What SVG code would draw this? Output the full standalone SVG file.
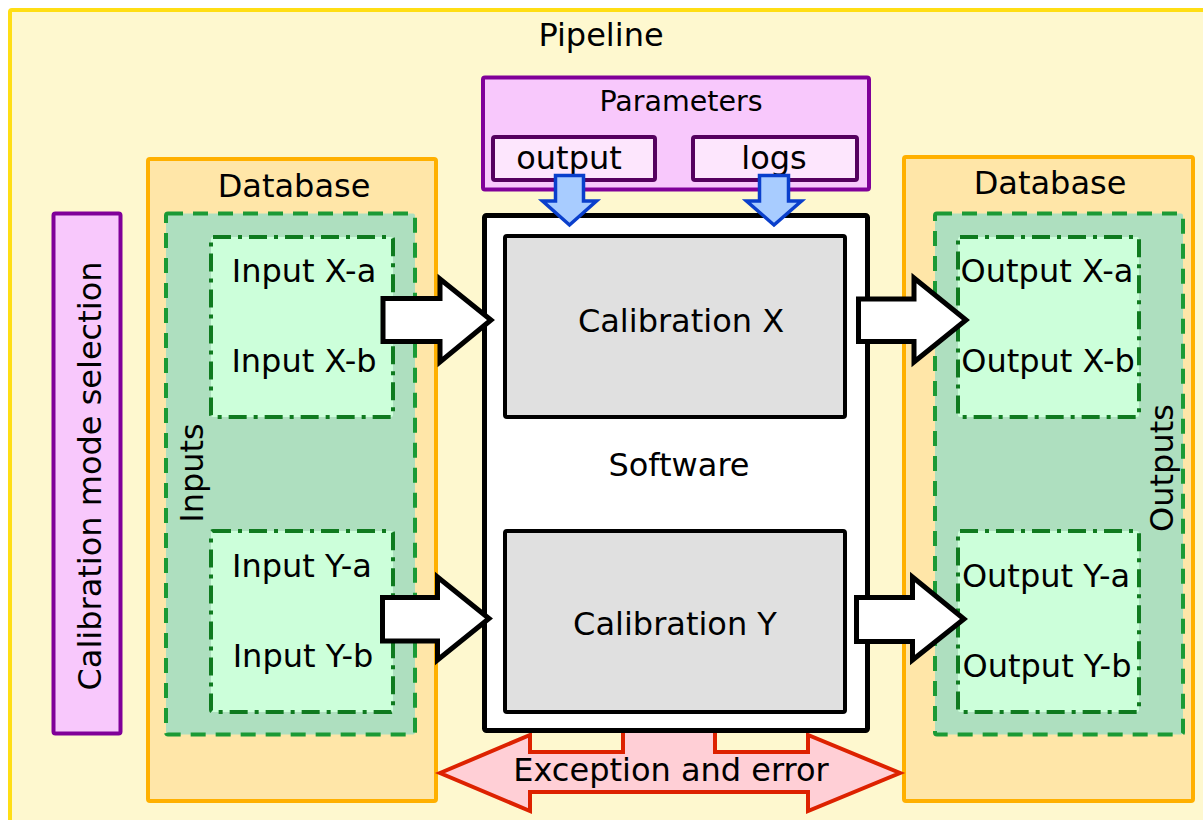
<svg xmlns="http://www.w3.org/2000/svg" width="1203" height="820" viewBox="0 0 1203 820">
<style>
text{font-family:"DejaVu Sans","Liberation Sans",sans-serif;font-size:32px;fill:#000;text-anchor:middle}
.pipe{fill:#fef8cf;stroke:#ffde14;stroke-width:4}
.db{fill:#ffe6a8;stroke:#ffb000;stroke-width:4}
.grp{fill:#aedfbf;stroke:#1b9a35;stroke-width:4;stroke-dasharray:15 10}
.inner{fill:#ccffda;stroke:#0f7a1f;stroke-width:4;stroke-dasharray:18 7 4 7}
.mode{fill:#f8c8fc;stroke:#800099;stroke-width:4}
.param{fill:#fde6fd;stroke:#55005f;stroke-width:4}
.soft{fill:#fff;stroke:#000;stroke-width:5}
.calib{fill:#e0e0e0;stroke:#000;stroke-width:4}
.big{fill:#fff;stroke:#000;stroke-width:5;stroke-linejoin:miter}
.blue{fill:#a8ccff;stroke:#0a3fcc;stroke-width:3.5}
.err{fill:#ffcfd6;stroke:#dd2200;stroke-width:4}
</style>
<g id="pipeline">
<rect class="pipe" x="10" y="10" width="1200" height="820" rx="2"/>
<text x="601" y="46">Pipeline</text>
</g>
<g id="mode-selection">
<rect class="mode" x="53.5" y="213.5" width="67" height="520" rx="2"/>
<text transform="translate(101,476) rotate(-90)">Calibration mode selection</text>
</g>
<g id="db-left">
<rect class="db" x="148" y="159" width="288" height="642" rx="2"/>
<text x="294" y="197">Database</text>
</g>
<g id="inputs">
<rect class="grp" x="166" y="213.5" width="249" height="521" rx="2"/>
<text transform="translate(203,473) rotate(-90)">Inputs</text>
</g>
<g id="input-x">
<rect class="inner" x="211" y="237" width="182" height="180" rx="2"/>
<text x="304" y="282">Input X-a</text>
<text x="304" y="372">Input X-b</text>
</g>
<g id="input-y">
<rect class="inner" x="211" y="531" width="182" height="181" rx="2"/>
<text x="302" y="577">Input Y-a</text>
<text x="303" y="667">Input Y-b</text>
</g>
<g id="db-right">
<rect class="db" x="904" y="157" width="289" height="644" rx="2"/>
<text x="1050" y="194">Database</text>
</g>
<g id="outputs">
<rect class="grp" x="935" y="213.5" width="248" height="521" rx="2"/>
<text transform="translate(1173,468) rotate(-90)">Outputs</text>
</g>
<g id="output-x">
<rect class="inner" x="958" y="237" width="181" height="180" rx="2"/>
<text x="1047" y="282">Output X-a</text>
<text x="1048" y="372">Output X-b</text>
</g>
<g id="output-y">
<rect class="inner" x="958" y="531" width="181" height="181" rx="2"/>
<text x="1046" y="587">Output Y-a</text>
<text x="1047" y="677">Output Y-b</text>
</g>
<g id="parameters">
<rect class="mode" x="483" y="77.5" width="386" height="112" rx="2"/>
<text x="681" y="111" style="font-size:28.5px">Parameters</text>
</g>
<g id="param-output">
<rect class="param" x="493" y="137" width="162" height="43" rx="2"/>
<text x="569" y="169">output</text>
</g>
<g id="param-logs">
<rect class="param" x="693" y="137" width="164" height="43" rx="2"/>
<text x="774" y="169">logs</text>
</g>
<g id="connector-error">
<path class="err" d="M440,773 L530,735 L530,752 L623,752 L623,725 L715,725 L715,752 L808,752 L808,735 L900,773 L808,811 L808,792 L530,792 L530,811 Z"/>
</g>
<g id="software">
<rect class="soft" x="484.5" y="215.5" width="383" height="515" rx="2"/>
<text x="679" y="476">Software</text>
</g>
<g id="calibration-x">
<rect class="calib" x="505" y="236" width="340" height="181" rx="2"/>
<text x="681" y="332">Calibration X</text>
</g>
<g id="calibration-y">
<rect class="calib" x="505" y="531" width="340" height="181" rx="2"/>
<text x="675" y="635">Calibration Y</text>
</g>
<g id="connectors">
<path class="blue" d="M555.5,175.5 L583.5,175.5 L583.5,201 L596.5,201 L569.5,225 L542.5,201 L555.5,201 Z"/>
<path class="blue" d="M759.5,175.5 L788.5,175.5 L788.5,201 L801.5,201 L774,225 L746.5,201 L759.5,201 Z"/>
<path class="big" d="M383,298.5 L440,298.5 L440,279 L491,320 L440,362 L440,341.5 L383,341.5 Z"/>
<path class="big" d="M382.5,597.5 L437.5,597.5 L437.5,577 L489,618.5 L437.5,660 L437.5,641 L382.5,641 Z"/>
<path class="big" d="M858.5,299 L914,299 L914,278 L966,320 L914,362 L914,341.5 L858.5,341.5 Z"/>
<path class="big" d="M856.5,597.5 L912.5,597.5 L912.5,577 L964,619 L912.5,660 L912.5,641.5 L856.5,641.5 Z"/>
<text x="671" y="781">Exception and error</text>
</g>
</svg>
